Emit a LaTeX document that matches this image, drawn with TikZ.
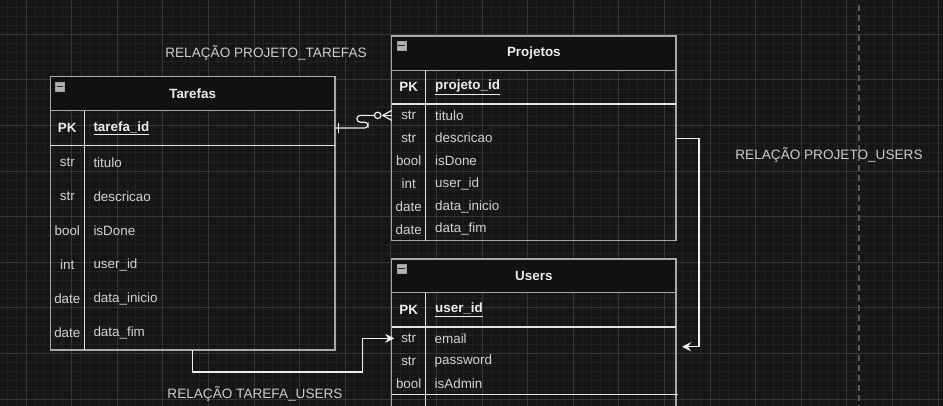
\documentclass[tikz,border=0pt]{standalone}
\usepackage{fontspec}
\setmainfont{Liberation Sans}
\usetikzlibrary{calc,arrows.meta}
\definecolor{bgcol}{HTML}{161616}
\definecolor{hdrfill}{HTML}{111111}
\definecolor{minorcol}{HTML}{222222}
\definecolor{majorcol}{HTML}{363636}
\definecolor{bordercol}{HTML}{A8A8A8}
\definecolor{sepcol}{HTML}{E2E2E2}
\definecolor{celltext}{HTML}{D2D2D2}
\definecolor{pktext}{HTML}{ECECEC}
\definecolor{lbltext}{HTML}{CCCCCC}
\definecolor{conncol}{HTML}{EEEEEE}
\definecolor{dashcol}{HTML}{5A5A5A}
\newcommand\cellfont{\fontsize{13.4}{15}\selectfont}
\newcommand\lblfont{\fontsize{13.6}{15}\selectfont}
\begin{document}
\begin{tikzpicture}[x=1pt,y=-1pt,
  minorgrid/.style={draw=minorcol,line width=0.8pt},
  majorgrid/.style={draw=majorcol,line width=1pt},
  tblbox/.style={draw=bordercol,line width=1.4pt,inner sep=0,outer sep=0,anchor=north west},
  hdrbox/.style={draw=bordercol,line width=1.4pt,fill=hdrfill,inner sep=0,outer sep=0,anchor=north west},
  rowbox/.style={inner sep=0,outer sep=0,anchor=north west},
  typetxt/.style={text=celltext,font=\cellfont,inner sep=0},
  nametxt/.style={text=celltext,font=\cellfont,anchor=west,inner sep=0},
  pktype/.style={text=pktext,font=\cellfont\bfseries,inner sep=0},
  pkname/.style={text=pktext,font=\cellfont\bfseries,anchor=west,inner sep=0},
  titletxt/.style={text=pktext,font=\cellfont\bfseries,inner sep=0},
  lbl/.style={text=lbltext,font=\lblfont,inner sep=0},
  seprule/.style={draw=sepcol,line width=1.2pt},
  colrule/.style={draw=sepcol,line width=1pt},
  iconbox/.style={draw=gray!75,fill=gray!60,line width=0.6pt,minimum size=9pt,inner sep=0,anchor=north west},
  conn/.style={draw=conncol,line width=1.2pt},
  arrowconn/.style={conn,-{Stealth[length=9pt,width=9pt,inset=3pt]}},
  dashline/.style={draw=dashcol,line width=1.6pt,dash pattern=on 6pt off 4pt}]
\useasboundingbox (0,0) rectangle (943,406);
\fill[bgcol] (0,0) rectangle (943,406);
% grid
\foreach \i in {0,...,102}{\draw[minorgrid] ({7.76+9.12*\i},0) -- ({7.76+9.12*\i},406);}
\foreach \j in {0,...,43}{\draw[minorgrid] (0,{6.94+9.12*\j}) -- (943,{6.94+9.12*\j});}
\foreach \i in {0,...,20}{\draw[majorgrid] ({26+45.6*\i},0) -- ({26+45.6*\i},406);}
\foreach \j in {0,...,8}{\draw[majorgrid] (0,{34.3+45.6*\j}) -- (943,{34.3+45.6*\j});}
% dashed separator
\draw[dashline] (859,5) -- (859,406);

% ===== Tarefas =====
\node[tblbox,minimum width=284.7,minimum height=273.3] (tarefas) at (50.3,76.7) {};
\node[hdrbox,minimum width=284.7,minimum height=34] (th) at (50.3,76.7) {};
\node[iconbox] (ticon) at (55,82) {};
\draw[draw=gray!30!black,line width=1pt] ($(ticon.west)+(1.5,0)$) -- ($(ticon.east)+(-1.5,0)$);
\node[titletxt] (tht) at (th.center) {Tarefas};
\node[rowbox,minimum width=284.7,minimum height=34.6] (tpk) at (50.3,110.7) {};
\node[pktype] (tpkty) at (67.3,128) {PK};
\node[pkname] (tpknm) at (93.3,128) {\underline{tarefa\_id}};
\draw[seprule] (50.3,145.3) -- (335,145.3);
\draw[colrule] (84.3,110.7) -- (84.3,350);
\foreach \ty/\nm [count=\k] in {str/titulo,str/descricao,bool/isDone,int/user\_id,date/data\_inicio,date/data\_fim}{
  \node[rowbox,minimum width=284.7,minimum height=34.12] (t\k) at (50.3,{145.3+34.12*(\k-1)}) {};
  \node[typetxt] (t\k ty) at (67.3,{145.3+34.12*(\k-0.5)}) {\ty};
  \node[nametxt] (t\k nm) at (93.3,{145.3+34.12*(\k-0.5)}) {\nm};
}

% ===== Projetos =====
\node[tblbox,minimum width=284.3,minimum height=204.7] (projetos) at (391.7,36) {};
\node[hdrbox,minimum width=284.3,minimum height=34.3] (ph) at (391.7,36) {};
\node[iconbox] (picon) at (396.5,41) {};
\draw[draw=gray!30!black,line width=1pt] ($(picon.west)+(1.5,0)$) -- ($(picon.east)+(-1.5,0)$);
\node[titletxt] (pht) at (ph.center) {Projetos};
\node[rowbox,minimum width=284.3,minimum height=33.7] (ppk) at (391.7,70.3) {};
\node[pktype] (ppkty) at (408.7,87.2) {PK};
\node[pkname] (ppknm) at (435,87.2) {\underline{projeto\_id}};
\draw[seprule] (391.7,104) -- (676,104);
\draw[colrule] (425.7,70.3) -- (425.7,240.7);
\foreach \ty/\nm [count=\k] in {str/titulo,str/descricao,bool/isDone,int/user\_id,date/data\_inicio,date/data\_fim}{
  \node[rowbox,minimum width=284.3,minimum height=22.78] (p\k) at (391.7,{104+22.78*(\k-1)}) {};
  \node[typetxt] (p\k ty) at (408.7,{104+22.78*(\k-0.5)}) {\ty};
  \node[nametxt] (p\k nm) at (435,{104+22.78*(\k-0.5)}) {\nm};
}

% ===== Users =====
\node[tblbox,minimum width=284.3,minimum height=190] (users) at (391.7,259) {};
\node[hdrbox,minimum width=284.3,minimum height=33.7] (uh) at (391.7,259) {};
\node[iconbox] (uicon) at (396.5,264) {};
\draw[draw=gray!30!black,line width=1pt] ($(uicon.west)+(1.5,0)$) -- ($(uicon.east)+(-1.5,0)$);
\node[titletxt] (uht) at (uh.center) {Users};
\node[rowbox,minimum width=284.3,minimum height=34.3] (upk) at (391.7,292.7) {};
\node[pktype] (upkty) at (408.7,309.8) {PK};
\node[pkname] (upknm) at (435,309.8) {\underline{user\_id}};
\draw[seprule] (391.7,327) -- (676,327);
\draw[colrule] (425.7,292.7) -- (425.7,449);
\foreach \ty/\nm [count=\k] in {str/email,str/password,bool/isAdmin}{
  \node[rowbox,minimum width=284.3,minimum height=22.7] (u\k) at (391.7,{327+22.7*(\k-1)}) {};
  \node[typetxt] (u\k ty) at (408.7,{327+22.7*(\k-0.5)}) {\ty};
  \node[nametxt] (u\k nm) at (434.5,{327+22.7*(\k-0.5)}) {\nm};
}
\draw[seprule] (391.7,394.7) -- (678,394.7);

% ===== labels =====
\node[lbl] (lblpt) at (266,53) {RELAÇÃO PROJETO\_TAREFAS};
\node[lbl] (lblpu) at (829,155) {RELAÇÃO PROJETO\_USERS};
\node[lbl] (lbltu) at (255,394) {RELAÇÃO TAREFA\_USERS};

% ===== connectors =====
% Tarefas -- Projetos (one to zero-or-many)
\node[circle,draw=conncol,line width=1.2pt,minimum size=6.4pt,inner sep=0] (pc) at ($(p1.west)+(-14,0)$) {};
\draw[conn,rounded corners=3.2pt] (tpk.east) -- ++(33,0) -- ++(0,-5.8) -- ++(-11,0) |- (pc.west);
\draw[conn] ($(tpk.east)+(3.7,-4.6)$) -- ($(tpk.east)+(3.7,4.6)$);
\draw[conn] (pc.east) -- (p1.west);
\draw[conn] ($(pc.east)+(1.2,0)$) -- ($(p1.west)+(0,-5)$);
\draw[conn] ($(pc.east)+(1.2,0)$) -- ($(p1.west)+(0,5)$);
% Tarefas -> Users
\draw[arrowconn] (tarefas.south) -- ++(0,22) -| ($(u1.west)+(-29,0)$) -- ($(u1.west)+(2.5,0)$);
% Projetos -> Users
\coordinate (uin) at ($(u1.east)+(6,8.4)$);
\draw[arrowconn] (p2.east) -- ++(23,0) |- (uin);
\end{tikzpicture}
\end{document}
